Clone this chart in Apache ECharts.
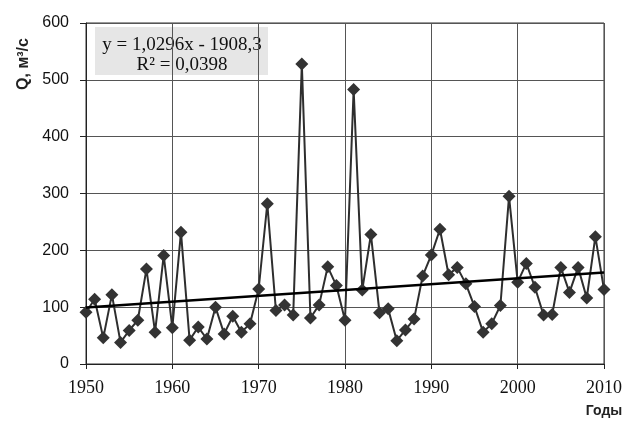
<!DOCTYPE html>
<html>
<head>
<meta charset="utf-8">
<script src="https://cdn.jsdelivr.net/npm/echarts@6/dist/echarts.min.js"></script>
<style>
html,body{margin:0;padding:0;background:#fff;}
#chart{width:625px;height:423px;}
</style>
</head>
<body>
<div id="chart"></div>
<script>
const years = [1950,1951,1952,1953,1954,1955,1956,1957,1958,1959,
  1960,1961,1962,1963,1964,1965,1966,1967,1968,1969,
  1970,1971,1972,1973,1974,1975,1976,1977,1978,1979,
  1980,1981,1982,1983,1984,1985,1986,1987,1988,1989,
  1990,1991,1992,1993,1994,1995,1996,1997,1998,1999,
  2000,2001,2002,2003,2004,2005,2006,2007,2008,2009,2010];
const flow = [91,114,46,122,38,59,77,167,56,191,
  64,232,42,65,44,100,53,84,56,71,
  132,282,94,104,86,528,81,104,171,138,
  77,483,130,228,90,97,41,60,79,155,
  192,237,157,170,141,101,56,71,103,295,
  144,177,135,86,87,170,126,170,116,224,131];
const trendSlope = 1.0296;
const trendIntercept = -1908.3;
const trendYears = [1950, 2010];
const xTicks = [1950,1960,1970,1980,1990,2000,2010];
const yTicks = [0,100,200,300,400,500,600];
const equationLines = ['y = 1,0296x - 1908,3', 'R² = 0,0398'];
const yName = 'Q, м³/с';
const xName = 'Годы';

const chart = echarts.init(document.getElementById('chart'));
const seriesData = years.map((y,i)=>[y, flow[i]]);
const trendData = trendYears.map(y=>[y, trendSlope*y + trendIntercept]);
const serif = '"Liberation Serif","DejaVu Serif",serif';
const sans = '"Liberation Sans",Arial,sans-serif';

chart.setOption({
  animation:false,
  backgroundColor:'#fff',
  grid:{left:86, right:19, top:23, bottom:59, containLabel:false, show:true, borderColor:'#333', borderWidth:1},
  xAxis:{
    type:'value', min:1950, max:2010, interval:10,
    axisLine:{show:true, onZero:false, lineStyle:{color:'#222', width:1}},
    axisTick:{show:true, length:5, inside:false, lineStyle:{color:'#222'}},
    axisLabel:{color:'#111', fontFamily:serif, fontSize:18, margin:15,
      formatter:v=>xTicks.includes(v)?String(v):''},
    splitLine:{show:true, lineStyle:{color:'#555', width:1}}
  },
  yAxis:{
    type:'value', min:0, max:600, interval:100,
    axisLine:{show:true, lineStyle:{color:'#222', width:1}},
    axisTick:{show:true, length:6, lineStyle:{color:'#222'}},
    axisLabel:{color:'#111', fontFamily:sans, fontSize:16, margin:17,
      formatter:v=>yTicks.includes(v)?String(v):''},
    splitLine:{show:true, lineStyle:{color:'#555', width:1}}
  },
  graphic:[
    {type:'rect', left:95, top:27, shape:{width:173, height:48}, style:{fill:'#e6e6e6'}},
    {type:'text', x:182, y:45, style:{text:equationLines[0], font:'19px '+serif, fill:'#111', align:'center', verticalAlign:'middle'}},
    {type:'text', x:182, y:65, style:{text:equationLines[1], font:'19px '+serif, fill:'#111', align:'center', verticalAlign:'middle'}},
    {type:'text', x:24, y:64, rotation:Math.PI/2, style:{text:yName, font:'bold 16px '+sans, fill:'#222', align:'center', verticalAlign:'middle'}},
    {type:'text', x:604, y:411, style:{text:xName, font:'bold 14px '+sans, fill:'#222', align:'center', verticalAlign:'middle'}}
  ],
  series:[
    {type:'line', data:seriesData, symbol:'diamond', symbolSize:13,
      lineStyle:{color:'#2e2e2e', width:2}, itemStyle:{color:'#333'}, z:3},
    {type:'line', data:trendData, symbol:'none',
      lineStyle:{color:'#000', width:2.5}, z:4}
  ]
});
</script>
</body>
</html>
